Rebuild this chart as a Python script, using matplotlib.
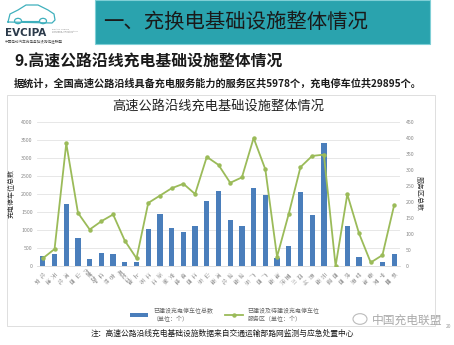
import matplotlib
matplotlib.use("Agg")
import matplotlib.pyplot as plt
from matplotlib.patches import Rectangle, Circle
from matplotlib.lines import Line2D
import numpy as np

plt.rcParams['font.family'] = ['Noto Sans CJK SC', 'DejaVu Sans']

provinces = ["北京", "天津", "河北", "山西", "内蒙古", "辽宁", "吉林", "黑龙江", "上海", "江苏",
             "浙江", "安徽", "福建", "江西", "山东", "河南", "湖北", "湖南", "广东", "广西",
             "海南", "重庆", "四川", "贵州", "云南", "西藏", "陕西", "甘肃", "青海", "宁夏", "新疆"]
parking_spaces = [290, 335, 1710, 785, 194, 370, 333, 100, 120, 1017,
                  1441, 1053, 951, 1109, 1802, 2079, 1275, 1117, 2153, 1968,
                  213, 563, 2060, 1413, 3409, 0, 1109, 258, 10, 120, 324]
service_areas = [24, 53, 383, 166, 114, 140, 161, 79, 24, 197,
                 220, 243, 257, 225, 341, 316, 260, 277, 400, 302,
                 29, 163, 309, 344, 348, 0, 224, 102, 11, 34, 190]
left_ticks = [0, 500, 1000, 1500, 2000, 2500, 3000, 3500, 4000]
right_ticks = [0, 50, 100, 150, 200, 250, 300, 350, 400, 450]

W, H = 454, 345
fig = plt.figure(figsize=(W / 100, H / 100), dpi=100)
fig.patch.set_facecolor('white')


def px(x, y):
    return (x / W, 1 - y / H)


# ---- Slide decorations ----
bx, by = px(95, 44)
fig.patches.append(Rectangle((bx, by), (430 - 95) / W, 44 / H, transform=fig.transFigure,
                             facecolor='#2aa3ae', edgecolor='#7fcfd6', linewidth=0.8, zorder=-5))
fig.text(*px(103, 22), "一、充换电基础设施整体情况", fontsize=14.7, color='#1a1a1a',
         va='center', ha='left')

car_x = [8, 10, 18, 26, 38, 48, 54, 55, 52, 8]
car_y = [22, 14, 10, 5, 5, 10, 14, 20, 23, 22]
fig.add_artist(Line2D([v / W for v in car_x], [1 - v / H for v in car_y],
                      transform=fig.transFigure, color='#3fb0bd', linewidth=0.9))
for cxp in (18, 43):
    fig.add_artist(Circle(px(cxp, 21), 3.5 / W, transform=fig.transFigure,
                          facecolor='white', edgecolor='#3fb0bd', linewidth=0.9))
fig.add_artist(Line2D([22 / W, 39 / W], [1 - 21 / H, 1 - 21 / H], transform=fig.transFigure,
                      color='#3fb0bd', linewidth=0.8))
fig.text(*px(5, 33), "EVCIPA", fontsize=7.5, fontweight='bold', color='#2b3a4a',
         va='center', ha='left', family=['DejaVu Sans'])
fig.text(*px(52, 31), "Electric Vehicle\nCharging Infrastructure\nPromotion Alliance", fontsize=1.6,
         color='#888888', va='center', ha='left', family=['DejaVu Sans'], linespacing=1.0)
fig.text(*px(5, 42), "中国电动汽车充电基础设施促进联盟", fontsize=2.6, color='#555555',
         va='center', ha='left')

fig.text(*px(14, 62), "9.高速公路沿线充电基础设施整体情况", fontsize=11.4, fontweight='bold',
         color='#1a1a1a', va='center', ha='left')
fig.text(*px(14, 84), "据统计，全国高速公路沿线具备充电服务能力的服务区共5978个，充电停车位共29895个。",
         fontsize=7.3, fontweight='bold', color='#1a1a1a', va='center', ha='left')

cx0, cy0 = px(7, 326)
fig.patches.append(Rectangle((cx0, cy0), (435 - 7) / W, (326 - 95) / H, transform=fig.transFigure,
                             facecolor='white', edgecolor='#d9d9d9', linewidth=0.6, zorder=-5))

# ---- Chart ----
ax = fig.add_axes([37 / W, 1 - 266 / H, (400 - 37) / W, (266 - 122) / H])
ax.set_facecolor('none')
x = np.arange(len(provinces))
bar_color = '#4a7ebb'
line_color = '#9bbb59'
bars = ax.bar(x, parking_spaces, width=0.45, color=bar_color, zorder=2,
              label="已建设充电停车位总数\n（单位：个）")
ax.set_xlim(-0.5, len(provinces) - 0.5)
ax.set_ylim(0, 4000)
ax.set_yticks(left_ticks)
ax.set_yticklabels([str(t) for t in left_ticks], fontsize=3.8, color='#888888')
ax.grid(axis='y', color='#e3e3e3', linewidth=0.6, zorder=0)
ax.set_axisbelow(True)
for s in ['top', 'right', 'left']:
    ax.spines[s].set_visible(False)
ax.spines['bottom'].set_color('#d9d9d9')
ax.spines['bottom'].set_linewidth(0.6)
ax.tick_params(axis='x', length=0, pad=6)
ax.tick_params(axis='y', length=0, pad=3)

labels = []
for p in provinces:
    if len(p) == 2:
        labels.append(p[0] + "\n" + p[1])
    else:
        labels.append(p)
ax.set_xticks(x)
ax.set_xticklabels(labels, fontsize=4.0, color='#999999', rotation=-45,
                   rotation_mode='anchor', ha='center', va='top', linespacing=1.7)
ax.set_ylabel("充电停车位总数", fontsize=5, color='#333333', labelpad=4)

ax2 = ax.twinx()
line, = ax2.plot(x, service_areas, color=line_color, linewidth=1.3, marker='o',
                 markersize=2.2, zorder=3,
                 label="已建设及待建设充电停车位\n服务区（单位：个）")
ax2.set_ylim(0, 450)
ax2.set_yticks(right_ticks)
ax2.set_yticklabels([str(t) for t in right_ticks], fontsize=3.8, color='#888888')
for s in ['top', 'right', 'left', 'bottom']:
    ax2.spines[s].set_visible(False)
ax2.tick_params(axis='y', length=0, pad=4)
ax2.set_ylabel("服务区总数", fontsize=5, color='#333333', rotation=-90, labelpad=6)

ax.set_title("高速公路沿线充电基础设施整体情况", fontsize=9.5, color='#222222', pad=9)

leg = ax.legend(handles=[bars, line], labels=[bars.get_label(), line.get_label()],
                loc='center', bbox_to_anchor=(225 / W, 1 - 315 / H),
                bbox_transform=fig.transFigure, ncol=2, frameon=False, fontsize=4.3,
                handlelength=3, columnspacing=2.0, labelcolor='#666666')

fig.text(*px(222, 334), "注：高速公路沿线充电基础设施数据来自交通运输部路网监测与应急处置中心",
         fontsize=5.6, color='#1a1a1a', ha='center', va='center')
fig.add_artist(Circle(px(360, 319), 7 / W, transform=fig.transFigure,
                      facecolor='white', edgecolor='#bbbbbb', linewidth=0.8))
fig.text(*px(372, 320), "中国充电联盟", fontsize=8.5, color='#aaaaaa', ha='left', va='center')
fig.text(*px(446, 326), "20", fontsize=3.5, color='#999999', ha='left', va='center')

fig.savefig("out.png", dpi=100, facecolor='white')
